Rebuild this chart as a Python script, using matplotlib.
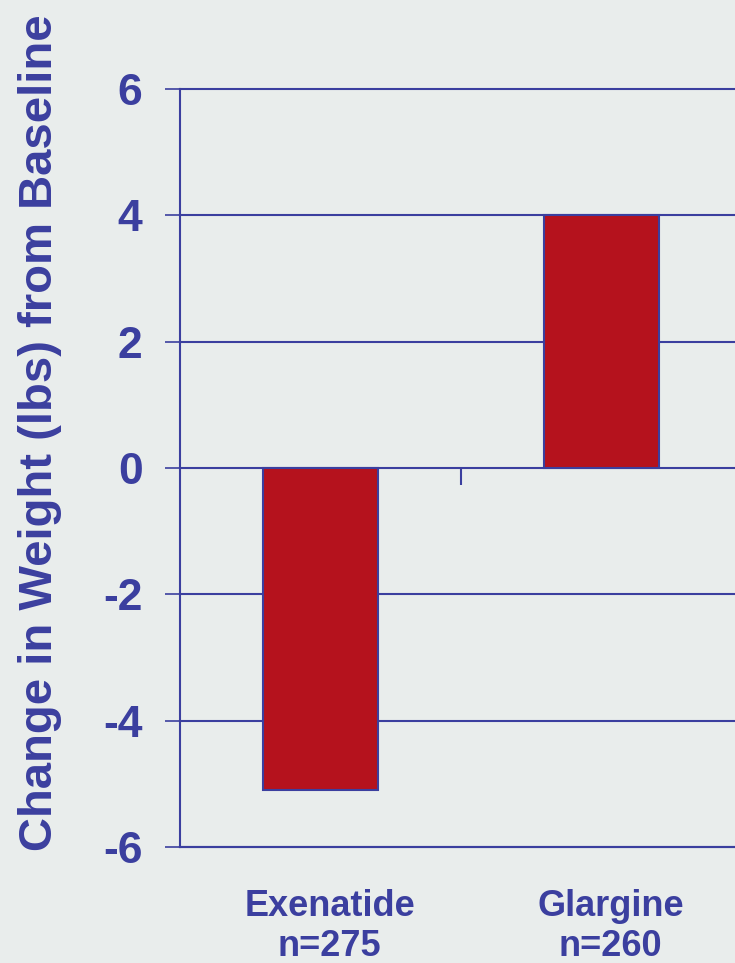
import matplotlib
matplotlib.use("Agg")
import matplotlib.pyplot as plt
from matplotlib.font_manager import FontProperties
from matplotlib.transforms import ScaledTranslation

categories = ["Exenatide\nn=275", "Glargine\nn=260"]
weight_change = [-5.1, 4.0]
yticks = [-6, -4, -2, 0, 2, 4, 6]

BLUE = "#3B3F9F"
RED = "#B5121D"
BG = "#E9EDEC"

plt.rcParams["font.family"] = ["Liberation Sans", "DejaVu Sans"]
plt.rcParams["font.weight"] = "bold"


def bold(size):
    return FontProperties(family="Liberation Sans", weight="bold", size=size)


fig = plt.figure(figsize=(7.35, 9.63), dpi=100, facecolor=BG)
ax = fig.add_axes([0.245, 0.1205, 0.7645, 0.7871], facecolor=BG)

x = list(range(len(categories)))
ax.bar(x, weight_change, width=0.41, color=RED, edgecolor=BLUE, linewidth=1.5, zorder=3)

ax.set_xlim(-0.5, len(categories) - 0.5)
ax.set_ylim(yticks[0], yticks[-1])
ax.set_yticks(yticks)
ax.set_yticklabels([str(t) for t in yticks], fontproperties=bold(32), color=BLUE)
for t in yticks:
    ax.axhline(t, color=BLUE, linewidth=1.5, zorder=2, clip_on=False)

ax.set_xticks(x)
ax.set_xticklabels(categories, fontproperties=bold(26), color=BLUE, linespacing=1.2)
ax.tick_params(axis="x", length=0, pad=30)
ax.tick_params(axis="y", length=11, width=1.2, color=BLUE, pad=16)

# nudge the category captions slightly to the right
shift = ScaledTranslation(9 / 100, 0, fig.dpi_scale_trans)
for lbl in ax.get_xticklabels():
    lbl.set_transform(lbl.get_transform() + shift)

for side in ("top", "right"):
    ax.spines[side].set_visible(False)
for side in ("left", "bottom"):
    ax.spines[side].set_color(BLUE)
    ax.spines[side].set_linewidth(1.5)

# category separator tick hanging below the zero line
zero_axis = ax.secondary_xaxis(0.5)
zero_axis.spines["bottom"].set_visible(False)
zero_axis.spines["top"].set_visible(False)
zero_axis.set_xticks([0.5])
zero_axis.set_xticklabels([])
zero_axis.tick_params(length=12, width=1.5, color=BLUE, direction="in")

ax.set_ylabel("Change in Weight (lbs) from Baseline", fontproperties=bold(34), color=BLUE)
ax.yaxis.set_label_coords(-0.21, 0.547)

fig.savefig("out.png", dpi=100, facecolor=BG)
